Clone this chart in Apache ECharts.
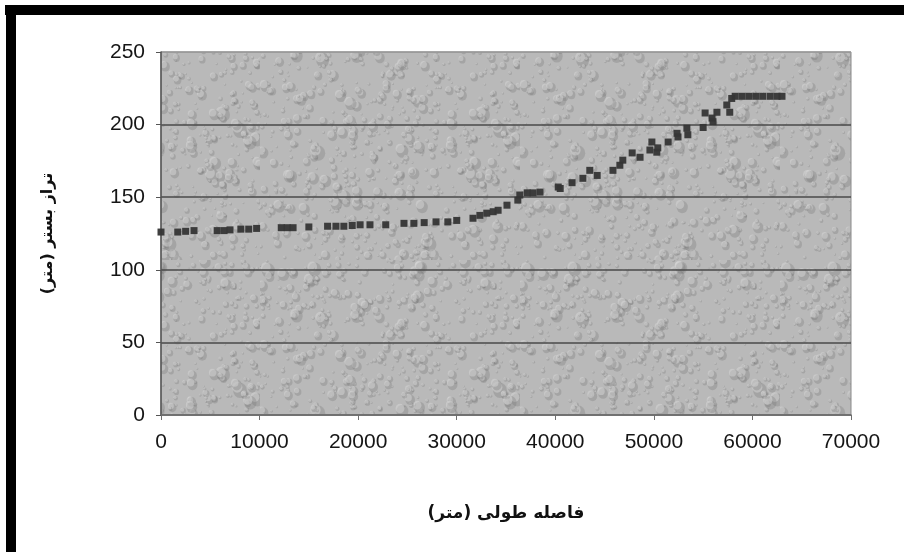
<!DOCTYPE html>
<html>
<head>
<meta charset="utf-8">
<script src="https://cdn.jsdelivr.net/npm/echarts@6/dist/echarts.min.js"></script>
<style>
  html, body { margin: 0; padding: 0; background: #fff; }
  #chart { width: 904px; height: 552px; }
</style>
</head>
<body>
<div id="chart"></div>
<script>
// distance along the river (m) and bed level (m)
const distance = [
  0, 1700, 2500, 3350, 5700, 6400, 7000, 8100, 8900, 9700,
  12200, 12800, 13400, 15000, 16900, 17750, 18550, 19400, 20200, 21200,
  22800, 24650, 25650, 26700, 27900, 29100, 30000, 31650, 32350, 33050,
  33700, 34200, 35100, 36200, 36400, 37150, 37750, 38450, 40300, 40500,
  41700, 42800, 43500, 44250, 45850, 46550, 46850, 47800, 48600, 49600,
  49800, 50300, 50400, 51450, 52350, 52450, 53350, 53450, 55000, 55200,
  55900, 56000, 56400, 57400, 57700, 57900, 58250, 58950, 59650, 60350,
  61050, 61800, 62500, 63000
];
const bedLevel = [
  126, 126, 126.5, 127, 127, 127, 127.5, 128, 128, 128.5,
  129, 129, 129, 129.5, 130, 130, 130, 130.5, 131, 131,
  131, 132, 132, 132.5, 133, 133, 134, 135.5, 137.5, 139,
  140, 141, 144.5, 148, 151.5, 153, 153, 153.5, 157, 156,
  160, 163, 168.5, 165, 168.5, 172, 175.5, 180.5, 177.5, 182.5,
  188, 181, 184, 188, 194, 191.5, 197.5, 193, 198, 208,
  204.5, 202, 208.5, 213.5, 208.5, 218, 219.5, 219.5, 219.5, 219.5,
  219.5, 219.5, 219.5, 219.5
];
const yTicks = [0, 50, 100, 150, 200, 250];
const xTicks = [0, 10000, 20000, 30000, 40000, 50000, 60000, 70000];

// grey "water drop" texture for the plot background
function dropTexture() {
  const c = document.createElement('canvas');
  c.width = 260; c.height = 260;
  const g = c.getContext('2d');
  g.fillStyle = '#b9b9b9';
  g.fillRect(0, 0, 260, 260);
  let s = 11;
  const rnd = () => { s = (s * 16807) % 2147483647; return s / 2147483647; };
  for (let i = 0; i < 900; i++) {
    const x = rnd() * 260, y = rnd() * 260;
    const r = 1 + rnd() * rnd() * 6;
    g.beginPath();
    g.ellipse(x + r * 0.25, y + r * 0.3, r, r * 1.1, 0, 0, Math.PI * 2);
    g.fillStyle = 'rgba(110,110,110,0.28)';
    g.fill();
    g.beginPath();
    g.ellipse(x - r * 0.15, y - r * 0.15, r * 0.75, r * 0.8, 0, 0, Math.PI * 2);
    g.fillStyle = 'rgba(220,220,220,0.45)';
    g.fill();
  }
  return c;
}

const chart = echarts.init(document.getElementById('chart'));
chart.setOption({
  backgroundColor: '#fff',
  animation: false,
  grid: {
    left: 161, right: 53, top: 52, bottom: 137,
    show: true,
    backgroundColor: { image: dropTexture(), repeat: 'repeat' },
    borderColor: '#8a8a8a', borderWidth: 1
  },
  xAxis: {
    type: 'value',
    min: 0, max: 70000, interval: 10000,
    name: 'فاصله طولی (متر)',
    nameLocation: 'middle', nameGap: 90,
    nameTextStyle: { fontFamily: 'DejaVu Sans', fontWeight: 'bold', fontSize: 17, color: '#111' },
    axisLine: { lineStyle: { color: '#6e6e6e', width: 1.5 } },
    axisTick: { show: true, length: 5, lineStyle: { color: '#6e6e6e' } },
    axisLabel: {
      fontFamily: 'Liberation Sans', fontSize: 21, color: '#151515', margin: 17,
      formatter: v => xTicks.includes(v) ? String(v) : ''
    },
    splitLine: { show: false }
  },
  yAxis: {
    type: 'value',
    min: 0, max: 250, interval: 50,
    name: 'تراز بستر (متر)',
    nameLocation: 'middle', nameGap: 105, nameRotate: 90,
    nameTextStyle: { fontFamily: 'DejaVu Sans', fontWeight: 'bold', fontSize: 16, color: '#111' },
    axisLine: { show: true, lineStyle: { color: '#555', width: 1.5 } },
    axisTick: { show: true, length: 5, lineStyle: { color: '#555' } },
    axisLabel: {
      fontFamily: 'Liberation Sans', fontSize: 21, color: '#151515', margin: 16,
      formatter: v => yTicks.includes(v) ? String(v) : ''
    },
    splitLine: { show: true, lineStyle: { color: ['#6e6e6e', '#4a4a4a', '#4a4a4a', '#4a4a4a', '#4a4a4a', '#9a9a9a'], width: 1.6 } }
  },
  series: [{
    type: 'scatter',
    data: distance.map((d, i) => [d, bedLevel[i]]),
    symbol: 'rect',
    symbolSize: 7,
    itemStyle: { color: '#353535', opacity: 0.95 }
  }],
  graphic: [
    { type: 'rect', shape: { x: 5, y: 5, width: 899, height: 10 }, style: { fill: '#000' } },
    { type: 'rect', shape: { x: 6, y: 5, width: 10, height: 547 }, style: { fill: '#000' } }
  ]
});
</script>
</body>
</html>
